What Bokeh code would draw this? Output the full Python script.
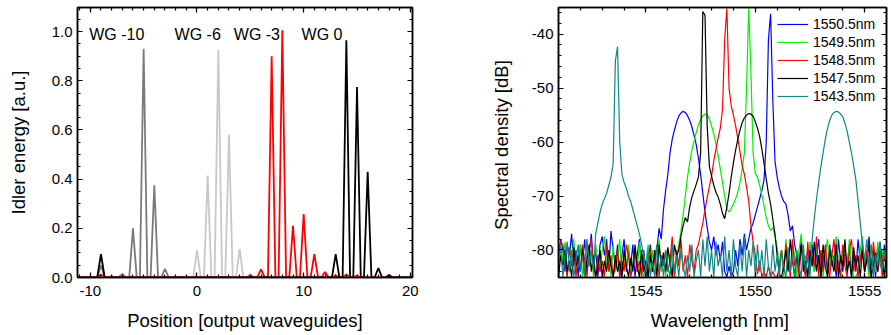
import numpy as np
from bokeh.plotting import figure
from bokeh.layouts import row
from bokeh.models import (LinearAxis, SingleIntervalTicker, PrintfTickFormatter, Range1d,
                          Legend, LegendItem, ColumnDataSource, CustomLabelingPolicy)
from bokeh.embed import file_html
from bokeh.resources import INLINE
from bokeh.core.properties import value

FONT = "Liberation Sans"

# ---------------- left panel data: idler energy per output waveguide ----------------
wgm10_pos = [-9, -8, -7, -6, -5, -4, -3, -1]
wgm10_h = [0.05, 0.006, 0.015, 0.20, 0.93, 0.375, 0.035, 0.005]
wgm6_pos = [-1, 0, 1, 2, 3, 4, 5]
wgm6_h = [0.005, 0.11, 0.415, 0.925, 0.58, 0.115, 0.015]
wgm3_pos = [-9, 5, 6, 7, 8, 9, 10, 11, 12, 13, 14, 15]
wgm3_h = [0.012, 0.008, 0.033, 0.90, 1.005, 0.21, 0.258, 0.095, 0.022, 0.008, 0.012, 0.008]
wg0_pos = [-9, 13, 14, 15, 16, 17, 18]
wg0_h = [0.095, 0.095, 0.965, 0.775, 0.43, 0.038, 0.01]

wg_labels = ["WG -10", "WG -6", "WG -3", "WG 0"]
wg_label_x = [-10.1, -2.1, 3.45, 9.8]
wg_label_y = [0.988, 0.988, 0.988, 0.988]

# ---------------- right panel data: spectra, 0.1 nm steps from 1541.0 nm ----------------
wl_start = 1541.0
wl_step = 0.1

blue_db = (
    [-82, -78, -80, -84, -79, -81, -77, -83, -80, -85,
     -79, -82, -78, -84, -81, -77, -83, -80, -85, -79,
     -77.5, -81, -78, -84, -76.5, -80, -83, -79, -85, -81,
     -78, -84, -80, -83, -79, -85, -81, -78, -84, -80,
     -85, -82, -79, -84, -81]
    + [-80, -76, -78, -72.5, -69, -66, -62, -59.5, -57.8, -56.3, -55.2, -54.6, -54.3,
       -54.5, -55.1, -56, -57.2, -58.8, -60.5, -63, -66, -69.5, -73, -75.8, -78.5]
    + [-80, -77.5, -81, -79, -82, -78.5, -84, -85, -83, -85, -84, -80, -83, -78, -81, -77, -80]
    + [-78, -76, -75, -73.5, -72, -70.5, -69, -67, -60, -41, -36.2, -52, -63.5, -66.5,
       -68.5, -70, -71, -71.5, -73.5, -76.5, -75.5, -79]
    + [-81, -84, -78, -82, -85, -80, -83, -79, -84, -81,
       -78, -85, -82, -80, -84, -79, -83, -81, -85, -78,
       -82, -84, -80, -83, -79, -85, -81, -84, -78, -82,
       -80, -84, -81, -77.5, -83, -80, -85, -79, -82, -84,
       -79, -81]
)

green_db = (
    [-84, -79, -82, -78.5, -85, -80, -83, -78, -84, -81,
     -79, -85, -82, -78, -83, -80, -85, -79, -82, -84,
     -80, -77.5, -83, -81, -85, -79, -84, -82, -78, -85,
     -81, -83, -79, -85, -82, -80, -84, -78.5, -83, -85,
     -82, -79, -84, -80, -85, -83, -78, -84, -81, -85,
     -80, -83, -79, -85, -82]
    + [-79, -76.5, -73.5, -70, -66.5, -63.8, -61.5, -59.8, -58.2, -56.8,
       -55.8, -55.1, -54.8, -55, -55.7, -57, -58.5, -60.3, -62.5, -65,
       -67.5, -70, -72.3, -73, -72.3, -71.5, -70.5, -69.3, -67.5, -65,
       -62, -50, -35.1, -47, -62, -65.8, -66.5, -68, -69.8, -71.8,
       -74, -75.5, -76.4, -75.8, -77.5, -79.5]
    + [-83, -80, -85, -78, -82, -84, -79, -81, -85, -80,
       -77, -83, -81, -85, -78.5, -82, -84, -79, -83, -80,
       -85, -81, -78, -84, -80, -83, -77.5, -82, -85, -79,
       -81, -84, -78, -83, -85, -85, -84, -80, -77.5, -83,
       -81, -85, -79, -82, -84, -78.5, -83, -80, -85, -81]
)

red_db = (
    [-80, -78.5, -79, -82, -85, -79.5, -83, -80, -85, -81,
     -84, -79, -82, -85, -80, -78, -83, -85, -81, -84,
     -82, -85, -79, -84, -81, -85, -83, -80, -85, -82,
     -84, -79, -81, -85, -83, -80, -84, -82, -85, -81,
     -83, -85, -80, -84, -82, -79, -85, -81, -83, -80,
     -84, -82, -77.5, -85, -80, -83, -78, -84, -81, -85,
     -79, -82, -84, -80]
    + [-79, -77, -75, -72.5, -70.3, -68.2, -66.3, -63.5, -61.3, -59.2, -57.4, -54, -41,
       -35.2, -50, -53.3, -55, -57, -59.3, -61.8, -64.3, -66, -68.3, -71, -75.5, -78.5,
       -81, -84.5]
    + [-82, -85, -84, -85, -83, -85, -84, -85, -85, -83,
       -80, -84, -79, -82, -85, -78, -83, -81, -85, -79,
       -82, -85, -78.5, -84, -81, -83, -77.5, -85, -80, -84,
       -79, -83, -85, -81, -78, -84, -82, -85, -79, -83,
       -85, -80, -78, -84, -81, -85, -82, -79, -84, -80,
       -83, -85, -78.5, -82, -84, -80, -85, -81, -83]
)

black_db = (
    [-85, -81, -83, -80, -84, -82, -85, -79.5, -83, -81,
     -84, -80, -85, -82, -79, -84, -81, -85, -83, -80,
     -85, -82, -84, -80, -83, -85, -81, -84, -82, -85,
     -80, -83, -85, -81.5, -84, -79, -83, -85, -80, -84,
     -82, -85, -81, -84, -80, -85, -79, -83, -80.5, -84,
     -79.5, -82, -85, -79, -81]
    + [-80, -77.5, -75.5, -74, -74.8, -72, -70.2, -69, -67.8, -66.5,
       -62, -35.8, -36.5, -57, -64.5, -66.3, -68, -69.3, -70.2, -71.5,
       -73.2, -74.2, -72, -69.5, -66.5, -63.8, -61.5, -59.5, -57.8, -56.4,
       -55.5, -55, -54.7, -54.8, -55.2, -56.2, -57.4, -59, -61.3, -64,
       -66.8, -69.5, -71.5, -74.3, -77, -81, -84.5]
    + [-85, -83, -80, -84, -78, -82, -85, -81, -83, -79,
       -84, -82, -85, -80, -83, -78.5, -84, -81, -85, -79,
       -83, -85, -80, -82, -84, -79, -85, -81, -83, -78,
       -84, -82, -85, -79.5, -83, -81, -85, -80, -84, -82,
       -79, -85, -83, -80.5, -84, -78.5, -82, -85, -80]
)

teal_db = (
    [-83, -79, -85, -81, -78.5, -84, -80, -85, -82, -79, -84, -81, -85, -78, -83, -80, -84]
    + [-77, -75, -73, -71.5, -70.5, -69.5, -68, -66.5, -64, -45, -42.3, -60, -66, -67.5,
       -68.5, -70, -71, -72.5, -74, -75.5, -77, -79]
    + [-81, -84, -80, -85, -82, -85, -79, -84, -81, -85,
       -80, -83, -85, -79, -84, -81, -85, -80, -83, -85,
       -81, -84, -79, -85, -82, -80, -85, -78, -83, -77.5,
       -84, -80, -85, -78.5, -83, -81, -85, -77.5, -84, -80,
       -85, -78, -83, -85, -79, -84, -77.5, -85, -80, -83,
       -78.5, -85, -79, -84, -80, -85, -78, -83, -85, -79,
       -84, -81, -85, -80, -83, -85, -79.5, -84, -81, -85,
       -80, -83, -85, -79, -84, -81, -85]
    + [-78, -74, -70.5, -67.5, -64.5, -62, -59.5, -57.5, -56, -55, -54.5, -54.3,
       -54.4, -54.8, -55.3, -56.5, -58, -60, -62, -64.5, -67, -71, -75, -79]
    + [-82, -78, -84, -79, -85, -81, -83, -78.5, -84, -80, -82]
)

spectra_labels = ["1550.5nm", "1549.5nm", "1548.5nm", "1547.5nm", "1543.5nm"]
spectra_colors = ["#0000ff", "#00ee00", "#ff0000", "#000000", "#108888"]
spectra_values = [blue_db, green_db, red_db, black_db, teal_db]


def peak_line(pos, h, x0, x1, half=0.35):
    xs, ys = [x0], [0.0]
    for p, v in sorted(zip(pos, h)):
        xs += [p - half, p, p + half]
        ys += [0.0, v, 0.0]
    xs.append(x1)
    ys.append(0.0)
    return xs, ys


def style_axis(ax, labels=True):
    ax.major_tick_in = 5
    ax.major_tick_out = 0
    ax.minor_tick_in = 3
    ax.minor_tick_out = 0
    ax.axis_line_color = "black"
    ax.axis_line_width = 1.5
    ax.major_tick_line_color = "black"
    ax.minor_tick_line_color = "black"
    ax.major_tick_line_width = 1.2
    ax.minor_tick_line_width = 1.2
    ax.major_label_text_font = FONT
    ax.major_label_text_color = "black"
    ax.axis_label_text_font = FONT
    ax.axis_label_text_font_size = "18.5px"
    ax.axis_label_text_font_style = "normal"
    ax.axis_label_text_color = "black"
    if labels:
        ax.major_label_text_font_size = "15px"
        ax.major_label_standoff = 5
    else:
        ax.major_label_text_font_size = "1px"
        ax.major_label_standoff = 0
        ax.major_label_policy = CustomLabelingPolicy(
            code="for (const i of indices) indices.unset(i)")


# ---------------- left figure ----------------
XL0, XL1 = -11.2, 20.2
p1 = figure(width=470, height=335, x_range=Range1d(XL0, XL1), y_range=Range1d(0, 1.098),
            min_border_left=77, min_border_right=58, min_border_top=7, min_border_bottom=58,
            output_backend="svg", toolbar_location=None)
p1.xgrid.visible = False
p1.ygrid.visible = False
p1.outline_line_color = "black"
p1.outline_line_width = 1.5

for pos, h, col in [(wgm10_pos, wgm10_h, "#7a7a7a"), (wgm6_pos, wgm6_h, "#c8c8c8"),
                    (wgm3_pos, wgm3_h, "#ff0000"), (wg0_pos, wg0_h, "#000000")]:
    xs, ys = peak_line(pos, h, XL0, XL1)
    p1.line(xs, ys, line_color=col, line_width=1.8)

p1.text(x="x", y="y", text="t",
        source=ColumnDataSource(dict(x=wg_label_x, y=wg_label_y, t=wg_labels)),
        text_font=value(FONT), text_font_size="16px", text_baseline="middle",
        text_align="left", text_color="black")

p1.xaxis.ticker = SingleIntervalTicker(interval=10, num_minor_ticks=10)
p1.xaxis.formatter = PrintfTickFormatter(format="%d")
p1.yaxis.ticker = SingleIntervalTicker(interval=0.2, num_minor_ticks=4)
p1.yaxis.formatter = PrintfTickFormatter(format="%.1f")
p1.xaxis.axis_label = "Position [output waveguides]"
p1.yaxis.axis_label = "Idler energy [a.u.]"
for ax in p1.xaxis + p1.yaxis:
    style_axis(ax)
p1.xaxis.major_label_standoff = 8
p1.xaxis.axis_label_standoff = 11
p1.yaxis.axis_label_standoff = 20

top1 = LinearAxis(ticker=SingleIntervalTicker(interval=10, num_minor_ticks=10))
style_axis(top1, labels=False)
p1.add_layout(top1, "above")
right1 = LinearAxis(ticker=SingleIntervalTicker(interval=0.2, num_minor_ticks=4))
style_axis(right1, labels=False)
p1.add_layout(right1, "right")

# ---------------- right figure ----------------
p2 = figure(width=421, height=335, x_range=Range1d(1541, 1556), y_range=Range1d(-85.1, -35.05),
            min_border_left=88, min_border_right=0, min_border_top=6, min_border_bottom=58,
            output_backend="svg", toolbar_location=None)
p2.xgrid.visible = False
p2.ygrid.visible = False
p2.outline_line_color = "black"
p2.outline_line_width = 1.5

items = []
for lab, col, vals in zip(spectra_labels, spectra_colors, spectra_values):
    xs = wl_start + wl_step * np.arange(len(vals))
    r = p2.line(xs, vals, line_color=col, line_width=1.2)
    items.append(LegendItem(label=lab, renderers=[r]))

p2.xaxis.ticker = SingleIntervalTicker(interval=5, num_minor_ticks=5)
p2.xaxis.formatter = PrintfTickFormatter(format="%d")
p2.yaxis.ticker = SingleIntervalTicker(interval=10, num_minor_ticks=5)
p2.yaxis.formatter = PrintfTickFormatter(format="%d")
p2.xaxis.axis_label = "Wavelength  [nm]"
p2.yaxis.axis_label = "Spectral density  [dB]"
for ax in p2.xaxis + p2.yaxis:
    style_axis(ax)
p2.xaxis.major_label_standoff = 8
p2.xaxis.axis_label_standoff = 11
p2.yaxis.axis_label_standoff = 17

top2 = LinearAxis(ticker=SingleIntervalTicker(interval=5, num_minor_ticks=5))
style_axis(top2, labels=False)
p2.add_layout(top2, "above")
right2 = LinearAxis(ticker=SingleIntervalTicker(interval=10, num_minor_ticks=5))
style_axis(right2, labels=False)
p2.add_layout(right2, "right")

legend = Legend(items=items, location=(219, 172), padding=0, margin=0, spacing=0,
                glyph_width=31, glyph_height=18, label_height=18, label_standoff=5,
                label_text_font=FONT, label_text_font_size="14px", label_text_color="black",
                border_line_alpha=0, background_fill_alpha=0)
p2.add_layout(legend)

layout = row(p1, p2)
open("out.html", "w").write(file_html(layout, INLINE))
